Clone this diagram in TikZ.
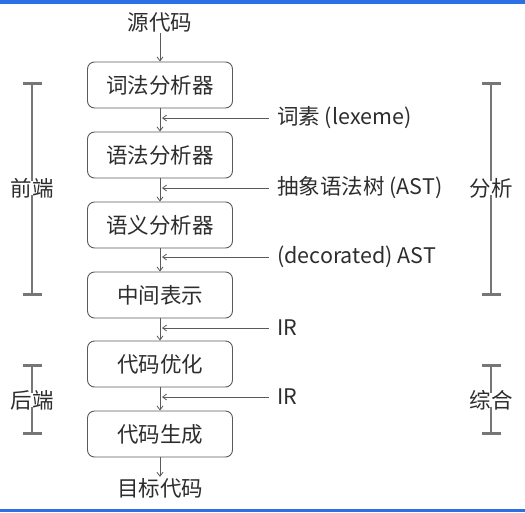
\documentclass[tikz,border=0pt]{standalone}
\usepackage{fontspec}
\setmainfont{Noto Sans CJK SC}
\usepackage{xcolor}
\definecolor{cgtext}{RGB}{45,45,45}
\definecolor{cgline}{RGB}{90,90,90}
\definecolor{cgbar}{RGB}{118,118,118}
\definecolor{cgblue}{RGB}{44,112,230}
\usetikzlibrary{arrows.meta,positioning}
\tikzset{
  stage/.style={draw=cgline, rounded corners=7pt, line width=0.9pt, text=cgtext,
                font=\fontsize{21.5}{25}\selectfont, minimum width=145pt, minimum height=46pt},
  plain/.style={text=cgtext, font=\fontsize{21.5}{25}\selectfont, inner sep=1pt},
  flow/.style={-{Straight Barb[length=4pt,width=6pt]}, draw=cgline, line width=0.8pt},
  spanline/.style={draw=cgbar, line width=2.8pt},
}

\begin{document}
\begin{tikzpicture}[x=1pt, y=-1pt]
\useasboundingbox (0,0) rectangle (525,512);

% screenshot bars
\fill[cgblue] (0,0) rectangle (525,4);
\fill[cgblue] (0,509) rectangle (525,512);

% main pipeline
\node[plain] (src) at (160,22) {源代码};
\node[stage] (lex) at (160,85) {词法分析器};
\node[stage] (syn) at (160,155) {语法分析器};
\node[stage] (sem) at (160,225) {语义分析器};
\node[stage] (ir) at (160,295) {中间表示};
\node[stage] (opt) at (160,364) {代码优化};
\node[stage] (gen) at (160,434) {代码生成};
\node[plain] (dst) at (160,488) {目标代码};

\draw[flow] (src) -- (lex);
\draw[flow] (lex) -- (syn);
\draw[flow] (syn) -- (sem);
\draw[flow] (sem) -- (ir);
\draw[flow] (ir) -- (opt);
\draw[flow] (opt) -- (gen);
\draw[flow] (gen) -- (dst);

% intermediate products
\node[plain, anchor=west] (t1) at (276,118) {词素 (lexeme)};
\node[plain, anchor=west] (t2) at (276,188) {抽象语法树 (AST)};
\node[plain, anchor=west] (t3) at (276,257) {(decorated) AST};
\node[plain, anchor=west] (t4) at (276,328) {IR};
\node[plain, anchor=west] (t5) at (276,397) {IR};

\coordinate (p1) at (162,118);
\coordinate (p2) at (162,188);
\coordinate (p3) at (162,257);
\coordinate (p4) at (162,328);
\coordinate (p5) at (162,397);
\draw[flow] (t1.west) ++(-7,0) -- (p1);
\draw[flow] (t2.west) ++(-7,0) -- (p2);
\draw[flow] (t3.west) ++(-7,0) -- (p3);
\draw[flow] (t4.west) ++(-7,0) -- (p4);
\draw[flow] (t5.west) ++(-7,0) -- (p5);

% phase brackets
\node[plain] (fe) at (32,188) {前端};
\node[plain] (be) at (32,400) {后端};
\node[plain] (an) at (491,188) {分析};
\node[plain] (sy) at (491,400) {综合};

\coordinate (fetop) at (32,82);
\coordinate (febot) at (32,296);
\coordinate (betop) at (32,364);
\coordinate (bebot) at (32,435);
\coordinate (antop) at (491,82);
\coordinate (anbot) at (491,296);
\coordinate (sytop) at (491,364);
\coordinate (sybot) at (491,435);

\draw[spanline, {|[width=19pt,length=2.8pt]}-] (fetop) -- ([yshift=-4pt]fe.north);
\draw[spanline, -{|[width=19pt,length=2.8pt]}] ([yshift=4pt]fe.south) -- (febot);
\draw[spanline, {|[width=19pt,length=2.8pt]}-] (betop) -- ([yshift=-4pt]be.north);
\draw[spanline, -{|[width=19pt,length=2.8pt]}] ([yshift=4pt]be.south) -- (bebot);
\draw[spanline, {|[width=19pt,length=2.8pt]}-] (antop) -- ([yshift=-4pt]an.north);
\draw[spanline, -{|[width=19pt,length=2.8pt]}] ([yshift=4pt]an.south) -- (anbot);
\draw[spanline, {|[width=19pt,length=2.8pt]}-] (sytop) -- ([yshift=-4pt]sy.north);
\draw[spanline, -{|[width=19pt,length=2.8pt]}] ([yshift=4pt]sy.south) -- (sybot);

\end{tikzpicture}
\end{document}
